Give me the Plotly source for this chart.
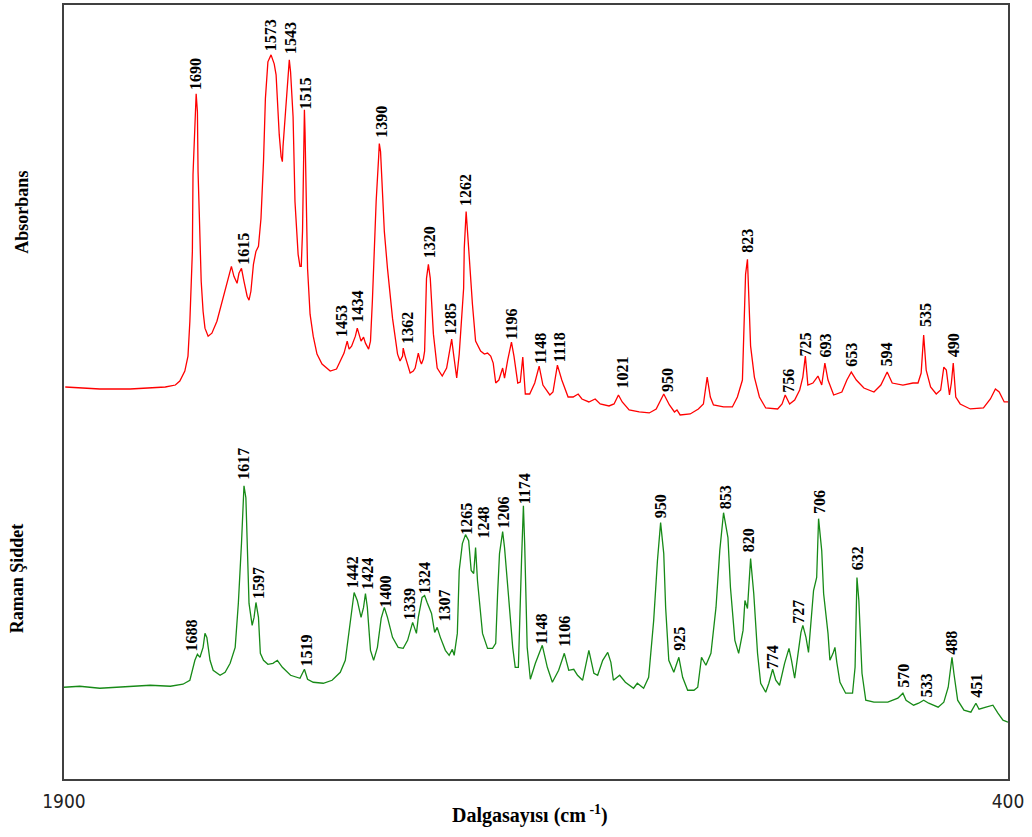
import plotly.graph_objects as go

# ---------------- IR (absorbance) spectrum ----------------
ir_wn = [1898, 1875, 1843, 1795, 1763, 1739, 1723, 1716, 1708, 1703, 1700, 1696, 1695, 1692, 1690, 1688, 1687,
         1685, 1682, 1679, 1676, 1671, 1665, 1657, 1647, 1639, 1634, 1630, 1625, 1622, 1618, 1614, 1609, 1606,
         1603, 1599, 1595, 1591, 1587, 1583, 1580, 1576, 1571, 1566, 1563, 1558, 1555, 1553, 1552, 1548, 1545,
         1542, 1540, 1537, 1536, 1533, 1528, 1525, 1523, 1521, 1520, 1518, 1517, 1515, 1513, 1509, 1504, 1498,
         1490, 1477, 1467, 1461, 1455, 1450, 1447, 1443, 1440, 1437, 1434, 1431, 1428, 1424, 1421, 1416, 1413,
         1410, 1407, 1404, 1400, 1399, 1397, 1394, 1391, 1386, 1378, 1370, 1366, 1362, 1361, 1358, 1354, 1350,
         1345, 1342, 1338, 1337, 1334, 1332, 1329, 1327, 1324, 1321, 1318, 1315, 1313, 1307, 1299, 1292, 1288,
         1284, 1281, 1276, 1272, 1267, 1265, 1264, 1261, 1257, 1254, 1251, 1246, 1238, 1232, 1227, 1222, 1218,
         1214, 1209, 1203, 1200, 1195, 1189, 1185, 1179, 1175, 1171, 1167, 1160, 1152, 1145, 1139, 1128, 1123,
         1116, 1109, 1099, 1091, 1083, 1077, 1066, 1056, 1048, 1034, 1026, 1019, 1013, 1002, 986, 970, 959, 947,
         938, 930, 926, 921, 905, 892, 884, 878, 873, 868, 852, 838, 830, 822, 820, 817, 814, 812, 809, 803, 795,
         785, 766, 759, 754, 747, 739, 731, 726, 722, 718, 710, 702, 696, 691, 686, 677, 664, 656, 649, 641, 629,
         613, 602, 592, 584, 567, 551, 543, 538, 534, 530, 523, 514, 507, 502, 498, 493, 490, 487, 483, 476, 460,
         439, 428, 420, 414, 406, 400]
ir_abs = [0.24, 0.23, 0.22, 0.22, 0.23, 0.24, 0.26, 0.30, 0.40, 0.55, 0.90, 1.60, 2.37, 3.00, 3.18, 3.00, 2.40,
          1.97, 1.30, 1.00, 0.83, 0.75, 0.78, 0.90, 1.15, 1.35, 1.45, 1.35, 1.28, 1.38, 1.43, 1.30, 1.15, 1.11,
          1.20, 1.47, 1.60, 1.65, 1.93, 2.50, 3.13, 3.50, 3.57, 3.48, 3.37, 2.77, 2.55, 2.50, 2.65, 3.00, 3.30,
          3.52, 3.40, 3.10, 2.95, 2.10, 1.57, 1.45, 1.45, 1.80, 2.37, 3.02, 2.80, 2.10, 1.43, 0.97, 0.75, 0.57,
          0.47, 0.40, 0.42, 0.50, 0.58, 0.70, 0.62, 0.65, 0.70, 0.75, 0.83, 0.75, 0.70, 0.74, 0.68, 0.62, 0.70,
          1.10, 1.60, 2.10, 2.55, 2.68, 2.60, 2.15, 1.80, 1.43, 0.93, 0.57, 0.50, 0.55, 0.63, 0.55, 0.47, 0.38,
          0.40, 0.43, 0.55, 0.58, 0.50, 0.47, 0.52, 0.60, 1.33, 1.47, 1.33, 1.00, 0.77, 0.43, 0.35, 0.43, 0.60,
          0.72, 0.57, 0.33, 0.57, 1.10, 1.23, 1.63, 2.00, 1.63, 1.30, 1.07, 0.70, 0.60, 0.57, 0.58, 0.55, 0.48,
          0.28, 0.31, 0.43, 0.33, 0.51, 0.69, 0.55, 0.28, 0.29, 0.54, 0.17, 0.17, 0.28, 0.45, 0.26, 0.16, 0.19,
          0.46, 0.31, 0.14, 0.14, 0.17, 0.12, 0.09, 0.12, 0.07, 0.05, 0.07, 0.16, 0.09, 0.01, -0.01, -0.02, 0.02, 0.17,
          0.06, -0.01, 0.01, -0.04, -0.03, 0.02, 0.07, 0.34, 0.14, 0.06, 0.04, 0.04, 0.14, 0.31, 0.78, 1.37, 1.52, 1.08, 0.65, 0.34, 0.14,
          0.03, 0.02, 0.07, 0.16, 0.07, 0.11, 0.21, 0.34, 0.55, 0.26, 0.28, 0.35, 0.26, 0.48, 0.31, 0.16, 0.19, 0.31, 0.39, 0.31, 0.23,
          0.19, 0.26, 0.39, 0.28, 0.26, 0.28, 0.28, 0.38, 0.76, 0.41, 0.24, 0.17, 0.21, 0.44, 0.41, 0.16, 0.28, 0.48, 0.14, 0.07, 0.02,
          0.03, 0.12, 0.22, 0.19, 0.09, 0.09]

# ---------------- Raman spectrum ----------------
ra_wn = [1900, 1875, 1843, 1811, 1763, 1731, 1711, 1700, 1692, 1688, 1684, 1679, 1676, 1673, 1668, 1663, 1652,
         1644, 1636, 1628, 1623, 1618, 1615, 1614, 1611, 1609, 1606, 1601, 1598, 1595, 1591, 1588, 1583, 1576,
         1568, 1561, 1553, 1540, 1525, 1518, 1513, 1504, 1488, 1474, 1461, 1453, 1447, 1442, 1439, 1434, 1428,
         1424, 1421, 1418, 1413, 1408, 1402, 1396, 1391, 1386, 1378, 1369, 1361, 1354, 1346, 1340, 1337, 1331,
         1327, 1323, 1316, 1311, 1307, 1302, 1294, 1288, 1283, 1280, 1275, 1272, 1267, 1262, 1257, 1253, 1249,
         1246, 1243, 1235, 1227, 1219, 1214, 1211, 1208, 1203, 1200, 1194, 1187, 1183, 1178, 1173, 1170, 1168,
         1164, 1159, 1151, 1140, 1132, 1124, 1114, 1105, 1098, 1090, 1084, 1076, 1066, 1058, 1052, 1044, 1036,
         1031, 1027, 1017, 1008, 995, 989, 979, 971, 963, 957, 952, 947, 944, 939, 931, 923, 917, 909, 899, 893,
         887, 880, 872, 864, 858, 852, 845, 841, 834, 828, 821, 818, 814, 809, 804, 798, 793, 785, 780, 774, 769,
         763, 755, 748, 744, 739, 734, 729, 726, 721, 717, 712, 709, 704, 701, 696, 693, 686, 683, 678, 675, 672,
         667, 658, 647, 643, 640, 637, 632, 626, 613, 591, 575, 567, 562, 550, 542, 534, 526, 511, 502, 495, 489,
         486, 480, 470, 459, 451, 446, 435, 424, 416, 408, 400]
ra_int = [0.33, 0.34, 0.32, 0.33, 0.35, 0.34, 0.36, 0.40, 0.60, 0.66, 0.63, 0.73, 0.87, 0.83, 0.60, 0.50, 0.45,
          0.48, 0.57, 0.73, 1.17, 1.77, 2.20, 2.35, 2.23, 1.70, 1.17, 0.95, 1.03, 1.18, 1.03, 0.67, 0.60, 0.56,
          0.57, 0.60, 0.53, 0.45, 0.42, 0.51, 0.41, 0.38, 0.37, 0.40, 0.48, 0.60, 0.87, 1.13, 1.28, 1.20, 1.03,
          1.13, 1.27, 1.13, 0.70, 0.60, 0.73, 1.02, 1.13, 1.03, 0.83, 0.73, 0.72, 0.80, 0.98, 0.87, 1.03, 1.23,
          1.25, 1.18, 1.07, 0.88, 0.93, 0.83, 0.70, 0.65, 0.71, 0.65, 0.87, 1.50, 1.77, 1.86, 1.80, 1.50, 1.47,
          1.73, 1.40, 0.87, 0.72, 0.72, 0.77, 1.27, 1.67, 1.89, 1.73, 1.27, 0.73, 0.53, 0.53, 1.60, 2.15, 1.77,
          0.73, 0.41, 0.57, 0.75, 0.53, 0.38, 0.50, 0.67, 0.50, 0.51, 0.45, 0.40, 0.70, 0.47, 0.45, 0.60, 0.68,
          0.58, 0.40, 0.45, 0.38, 0.32, 0.37, 0.32, 0.43, 1.00, 1.60, 1.98, 1.67, 1.13, 0.60, 0.48, 0.63, 0.43,
          0.30, 0.30, 0.33, 0.63, 0.55, 0.67, 1.13, 1.70, 2.08, 1.83, 1.33, 0.80, 0.67, 0.90, 1.20, 1.12, 1.62,
          1.27, 0.67, 0.37, 0.28, 0.37, 0.51, 0.40, 0.35, 0.57, 0.72, 0.60, 0.42, 0.65, 0.88, 0.95, 0.83, 0.68,
          1.10, 1.30, 1.43, 2.02, 1.70, 1.27, 0.87, 0.60, 0.67, 0.73, 0.58, 0.38, 0.27, 0.27, 0.53, 1.43, 1.20,
          0.47, 0.20, 0.18, 0.18, 0.22, 0.27, 0.20, 0.15, 0.17, 0.20, 0.17, 0.13, 0.18, 0.33, 0.63, 0.47, 0.20,
          0.10, 0.08, 0.17, 0.11, 0.13, 0.15, 0.07, 0.00, -0.02]

# ---------------- peak labels ----------------
ir_label_text = ["1690", "1615", "1573", "1543", "1515", "1453", "1434", "1390", "1362", "1320", "1285", "1262",
                 "1196", "1148", "1118", "1021", "950", "823", "756", "725", "693", "653", "594", "535", "490"]
ir_label_wn = [1690, 1615, 1572, 1539, 1516, 1460, 1434, 1396, 1354, 1320, 1287, 1262,
               1188, 1143, 1113, 1014, 942, 814, 750, 722, 690, 650, 593, 532, 487]
ir_label_h = [3.23, 1.48, 3.62, 3.59, 3.03, 0.75, 0.90, 2.75, 0.68, 1.54, 0.77, 2.06,
              0.72, 0.48, 0.50, 0.23, 0.20, 1.60, 0.19, 0.56, 0.55, 0.45, 0.45, 0.85, 0.55]

ra_label_text = ["1688", "1617", "1597", "1519", "1442", "1424", "1400", "1339", "1324", "1307", "1265", "1248",
                 "1206", "1174", "1148", "1106", "950", "925", "853", "820", "774", "727", "706", "632", "570",
                 "533", "488", "451"]
ra_label_wn = [1698, 1614, 1591, 1515, 1441, 1418, 1390, 1351, 1327, 1296, 1261, 1233,
               1201, 1169, 1141, 1104, 952, 922, 849, 812, 775, 733, 700, 639, 566, 530, 490, 450]
ra_label_h = [0.70, 2.42, 1.23, 0.55, 1.33, 1.32, 1.14, 1.01, 1.27, 1.00, 1.87, 1.83,
              1.93, 2.17, 0.77, 0.75, 2.03, 0.71, 2.13, 1.69, 0.52, 0.98, 2.08, 1.51, 0.33,
              0.24, 0.67, 0.23]

x_ticks = [1900, 400]
x_title = "Dalgasayısı (cm<sup> -1</sup>)"
ir_title = "Absorbans"
ra_title = "Raman Şiddet"

# vertical offsets of the two stacked spectra
IR_OFFSET = 3.69
RA_OFFSET = 0.59

fig = go.Figure()
fig.add_trace(go.Scatter(x=ir_wn, y=[v + IR_OFFSET for v in ir_abs], mode="lines",
                         line=dict(color="#ff0000", width=1.3), hoverinfo="skip", showlegend=False))
fig.add_trace(go.Scatter(x=ra_wn, y=[v + RA_OFFSET for v in ra_int], mode="lines",
                         line=dict(color="#178a17", width=1.3), hoverinfo="skip", showlegend=False))

label_font = dict(family="Liberation Serif, Times New Roman, serif", size=16, color="#000000")
annotations = []
for t, x, h in zip(ir_label_text, ir_label_wn, ir_label_h):
    annotations.append(dict(x=x, y=h + IR_OFFSET, xref="x", yref="y", text="<b>%s</b>" % t,
                            textangle=-90, showarrow=False, xanchor="center", yanchor="bottom",
                            font=label_font, borderpad=0, yshift=-2))
for t, x, h in zip(ra_label_text, ra_label_wn, ra_label_h):
    annotations.append(dict(x=x, y=h + RA_OFFSET, xref="x", yref="y", text="<b>%s</b>" % t,
                            textangle=-90, showarrow=False, xanchor="center", yanchor="bottom",
                            font=label_font, borderpad=0, yshift=-2))

title_font = dict(family="Liberation Serif, Times New Roman, serif", size=18, color="#000000")
annotations.append(dict(x=-0.0445, y=0.733, xref="paper", yref="paper", text="<b>%s</b>" % ir_title,
                        textangle=-90, showarrow=False, xanchor="center", yanchor="middle", font=title_font))
annotations.append(dict(x=-0.050, y=0.259, xref="paper", yref="paper", text="<b>%s</b>" % ra_title,
                        textangle=-90, showarrow=False, xanchor="center", yanchor="middle", font=title_font))
annotations.append(dict(x=0.494, y=-0.046, xref="paper", yref="paper", text="<b>%s</b>" % x_title,
                        showarrow=False, xanchor="center", yanchor="middle",
                        font=dict(family="Liberation Serif, Times New Roman, serif", size=20, color="#000000")))

fig.update_layout(
    width=1032, height=837, autosize=False,
    margin=dict(l=64, r=24, t=3, b=58),
    paper_bgcolor="white", plot_bgcolor="white",
    annotations=annotations,
    xaxis=dict(range=[1900, 400], tickvals=x_ticks, ticktext=[str(v) for v in x_ticks],
               showgrid=False, zeroline=False, showline=True, mirror=True, linecolor="#404040",
               linewidth=2, ticks="", ticklabelstandoff=4,
               tickfont=dict(family="DejaVu Sans Condensed, Liberation Sans Narrow, sans-serif", size=19,
                             color="#222222")),
    yaxis=dict(range=[0, 7.76], showticklabels=False, showgrid=False, zeroline=False, showline=True,
               mirror=True, linecolor="#404040", linewidth=2, ticks=""),
)

fig.write_html("out.html", config={"displayModeBar": False},
               post_script="document.body.style.margin='0px';")
